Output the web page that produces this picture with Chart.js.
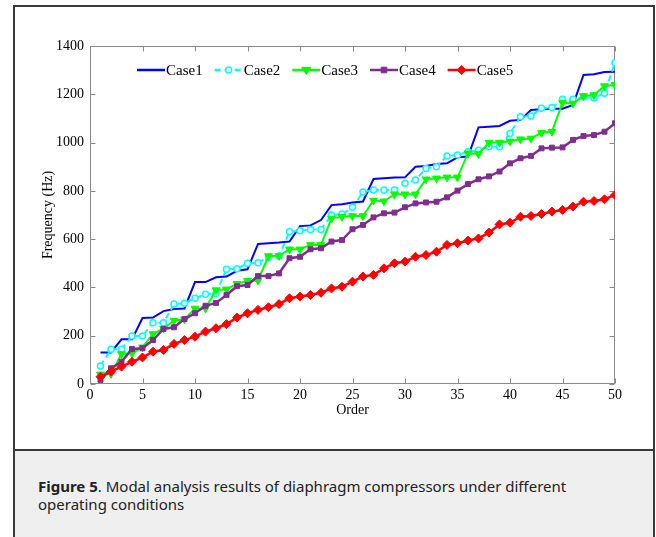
<!DOCTYPE html>
<html>
<head>
<meta charset="utf-8">
<script src="https://cdn.jsdelivr.net/npm/chart.js@4.4.1/dist/chart.umd.min.js"></script>
<style>
  html, body { margin: 0; padding: 0; background: #fff; }
  #fig { position: absolute; left: 13px; top: 5px; width: 638px; height: 600px; border: 2px solid #3a3a3a; }
  #plot { position: absolute; left: 0; top: 0; width: 636px; height: 442px; }
  #caption { position: absolute; left: 0; top: 442px; width: 638px; height: 200px; background: #efefef;
             border-top: 2px solid #3a3a3a; box-sizing: border-box; padding: 26px 60px 0 23px;
             font-family: "Noto Sans", sans-serif; font-size: 15px; line-height: 18px; color: #222; }
</style>
</head>
<body>
<div id="fig">
  <div id="plot"><canvas id="modalChart" width="636" height="442"></canvas></div>
  <div id="caption"><b>Figure 5</b>. Modal analysis results of diaphragm compressors under different operating conditions</div>
</div>
<script>
const orders = [1,2,3,4,5,6,7,8,9,10,11,12,13,14,15,16,17,18,19,20,21,22,23,24,25,
                26,27,28,29,30,31,32,33,34,35,36,37,38,39,40,41,42,43,44,45,46,47,48,49,50];
const seriesNames = ['Case1', 'Case2', 'Case3', 'Case4', 'Case5'];
const case1 = [130,130,185,185,273,275,302,311,313,422,422,442,445,469,475,580,583,586,590,654,
               657,679,741,745,752,756,849,852,855,856,900,903,911,914,939,942,1063,1066,1069,1090,
               1094,1135,1138,1140,1140,1156,1280,1283,1292,1293];
const case2 = [75,144,144,199,199,254,254,331,334,355,372,375,475,477,500,502,525,530,631,635,
               640,640,700,704,732,795,804,804,804,831,845,893,900,944,949,962,968,983,983,1038,
               1107,1110,1142,1145,1179,1179,1190,1185,1204,1331];
const case3 = [40,42,124,127,152,207,230,262,268,313,313,389,392,415,428,429,530,531,558,558,
               576,576,686,693,696,696,760,757,786,786,786,848,852,856,856,956,953,1000,1000,1005,
               1014,1017,1041,1045,1165,1162,1193,1197,1234,1239];
const case4 = [17,65,92,145,148,182,228,235,269,293,324,336,369,405,410,447,447,458,521,527,
               558,562,590,596,641,659,690,707,710,732,748,752,755,773,801,828,848,860,880,914,
               935,945,976,979,980,1011,1027,1031,1045,1080];
const case5 = [30,51,72,92,110,134,141,166,182,196,217,231,248,275,293,307,318,331,355,362,
               369,378,396,403,424,445,452,479,500,507,527,534,548,576,583,594,603,627,661,668,
               693,696,704,714,721,735,755,758,765,783];
const xTicks = [0,5,10,15,20,25,30,35,40,45,50];
const yTicks = [0,200,400,600,800,1000,1200,1400];

const serif = '"Liberation Serif", "Times New Roman", serif';
const toPoints = vals => vals.map((v, i) => ({ x: orders[i], y: v }));

// box round the plot with inward ticks, like the matlab axes
const frame = {
  id: 'frame',
  beforeDatasetsDraw(chart) {
    const { ctx, chartArea: a, scales: { x, y } } = chart;
    const L = Math.round(a.left) + 0.5, R = Math.round(a.right) - 0.5;
    const T = Math.round(a.top) + 0.5, B = Math.round(a.bottom) - 0.5;
    ctx.save();
    ctx.strokeStyle = '#8a8a8a';
    ctx.lineWidth = 1;
    ctx.strokeRect(L, T, R - L, B - T);
    ctx.beginPath();
    x.ticks.forEach(t => {
      const px = Math.round(x.getPixelForValue(t.value)) + 0.5;
      ctx.moveTo(px, B); ctx.lineTo(px, B - 5);
      ctx.moveTo(px, T); ctx.lineTo(px, T + 5);
    });
    y.ticks.forEach(t => {
      const py = Math.round(y.getPixelForValue(t.value)) + 0.5;
      ctx.moveTo(L, py); ctx.lineTo(L + 5, py);
      ctx.moveTo(R, py); ctx.lineTo(R - 5, py);
    });
    ctx.stroke();
    ctx.restore();
  }
};

function marker(ctx, style, r, cx, cy, fill, stroke, bw) {
  ctx.beginPath();
  if (style === 'circle') {
    ctx.arc(cx, cy, r, 0, Math.PI * 2);
  } else if (style === 'triangle') { // pointing down
    ctx.moveTo(cx - r, cy - r * 0.6); ctx.lineTo(cx + r, cy - r * 0.6); ctx.lineTo(cx, cy + r);
  } else if (style === 'rect') {
    ctx.rect(cx - r * 0.8, cy - r * 0.8, r * 1.6, r * 1.6);
  } else if (style === 'rectRot') {
    ctx.moveTo(cx, cy - r); ctx.lineTo(cx + r, cy); ctx.lineTo(cx, cy + r); ctx.lineTo(cx - r, cy);
  }
  ctx.closePath();
  ctx.fillStyle = fill; ctx.fill();
  ctx.lineWidth = bw; ctx.strokeStyle = stroke; ctx.stroke();
}

const legendBox = {
  id: 'legendBox',
  afterDatasetsDraw(chart) {
    const { ctx } = chart;
    let x0 = 122;
    const yc = 63;
    ctx.save();
    ctx.font = '15px ' + serif;
    ctx.textBaseline = 'middle';
    chart.data.datasets.forEach(ds => {
      ctx.strokeStyle = ds.borderColor;
      ctx.lineWidth = 2.5;
      ctx.setLineDash(ds.borderDash || []);
      ctx.beginPath(); ctx.moveTo(x0, yc); ctx.lineTo(x0 + 28, yc); ctx.stroke();
      ctx.setLineDash([]);
      if (ds.pointRadius > 0) {
        marker(ctx, ds.pointStyle, ds.pointRadius, x0 + 14, yc, ds.pointBackgroundColor, ds.borderColor, ds.pointBorderWidth);
      }
      ctx.fillStyle = '#000';
      ctx.fillText(ds.label, x0 + 29, yc + 1);
      x0 += 29 + ctx.measureText(ds.label).width + 12;
    });
    ctx.restore();
  }
};

const ctx = document.getElementById('modalChart').getContext('2d');
new Chart(ctx, {
  type: 'line',
  data: {
    datasets: [
      { label: seriesNames[0], data: toPoints(case1), borderColor: '#0000ff', borderWidth: 2,
        pointRadius: 0, order: 5 },
      { label: seriesNames[1], data: toPoints(case2), borderColor: '#00ffff', borderWidth: 2,
        borderDash: [6, 4], pointStyle: 'circle', pointRadius: 3, pointBackgroundColor: '#ffffff',
        pointBorderColor: '#00ffff', pointBorderWidth: 1.5, order: 4 },
      { label: seriesNames[2], data: toPoints(case3), borderColor: '#00ff00', borderWidth: 2,
        pointStyle: 'triangle', pointRotation: 180, pointRadius: 4.5, pointBackgroundColor: '#00ff00',
        pointBorderColor: '#00ff00', pointBorderWidth: 1, order: 3 },
      { label: seriesNames[3], data: toPoints(case4), borderColor: '#7e2f8e', borderWidth: 2.5,
        pointStyle: 'rect', pointRadius: 3.5, pointBackgroundColor: '#7e2f8e',
        pointBorderColor: '#7e2f8e', pointBorderWidth: 1, order: 2 },
      { label: seriesNames[4], data: toPoints(case5), borderColor: '#ff0000', borderWidth: 2.5,
        pointStyle: 'rectRot', pointRadius: 4.5, pointBackgroundColor: '#ff0000',
        pointBorderColor: '#ff0000', pointBorderWidth: 1, order: 1 }
    ]
  },
  options: {
    responsive: false,
    animation: false,
    layout: { padding: { left: 0, top: 39, right: 36, bottom: 0 } },
    plugins: { legend: { display: false }, tooltip: { enabled: false } },
    elements: { line: { tension: 0 } },
    scales: {
      x: {
        type: 'linear', min: 0, max: 50,
        afterBuildTicks: s => { s.ticks = xTicks.map(v => ({ value: v })); },
        afterFit: s => { s.height = 65; },
        grid: { display: false, drawTicks: false },
        border: { display: false },
        ticks: { color: '#000', padding: 3, maxRotation: 0, font: { family: serif, size: 14 },
                 callback: v => String(v) },
        title: { display: true, text: 'Order', color: '#000', padding: { top: 0, bottom: 30 },
                 font: { family: serif, size: 14 } }
      },
      y: {
        min: 0, max: 1400,
        afterBuildTicks: s => { s.ticks = yTicks.map(v => ({ value: v })); },
        afterFit: s => { s.width = 75; },
        grid: { display: false, drawTicks: false },
        border: { display: false },
        ticks: { color: '#000', padding: 6, font: { family: serif, size: 14 },
                 callback: v => String(v) },
        title: { display: true, text: 'Frequency (Hz)', color: '#000', padding: { top: 25, bottom: 0 },
                 font: { family: serif, size: 14 } }
      }
    }
  },
  plugins: [frame, legendBox]
});
</script>
</body>
</html>
